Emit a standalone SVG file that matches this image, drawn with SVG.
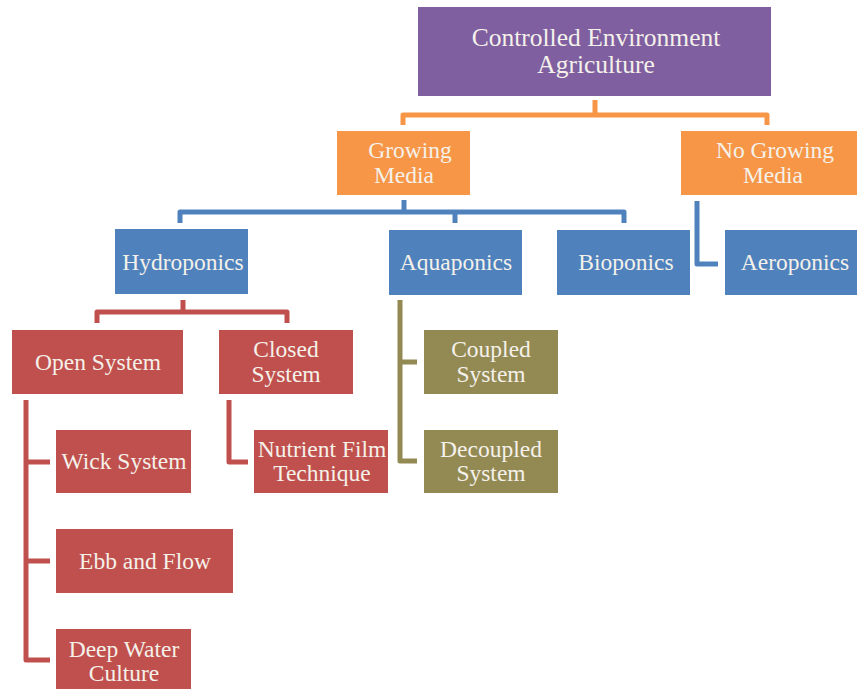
<svg xmlns="http://www.w3.org/2000/svg" width="857" height="689" viewBox="0 0 857 689">
<style>
text{font-family:'Liberation Serif','Times New Roman',Times,'DejaVu Serif',serif;font-size:23.5px;fill:#f4f1ea;text-anchor:middle}
.big{font-size:25.5px}
.c{fill:none;stroke-width:5;stroke-linejoin:round;stroke-linecap:butt}
.pu{fill:#7f5fa0}.or{fill:#f79646}.bl{fill:#4f81bd}.rd{fill:#c0504d}.ol{fill:#938953}
</style>
<rect width="857" height="689" fill="#fff"/>
<g id="connectors">
<path class="c" stroke="#f79646" d="M595 100V115M403 125V115H767V125"/>
<path class="c" stroke="#4f81bd" d="M404 200V212M180 223V212H624V223M455 212V223"/>
<path class="c" stroke="#4f81bd" d="M697 201V264H718"/>
<path class="c" stroke="#c0504d" d="M183 300V312M97 323V312H287V323"/>
<path class="c" stroke="#c0504d" d="M26 400V660H50M26 462H50M26 561H50"/>
<path class="c" stroke="#c0504d" d="M229 400V462H248"/>
<path class="c" stroke="#938953" d="M400 300V461H417M400 362H417"/>
</g>
<g id="cea"><rect class="pu" x="418" y="7" width="353" height="89"/><text class="big" x="596" y="46">Controlled Environment</text><text class="big" x="596" y="73">Agriculture</text></g>
<g id="growing-media"><rect class="or" x="337" y="131" width="133" height="64"/><text x="410" y="158">Growing</text><text x="404" y="183">Media</text></g>
<g id="no-growing-media"><rect class="or" x="681" y="131" width="176" height="64"/><text x="775" y="158">No Growing</text><text x="773" y="183">Media</text></g>
<g id="hydroponics"><rect class="bl" x="115" y="229" width="133" height="65"/><text x="183" y="270">Hydroponics</text></g>
<g id="aquaponics"><rect class="bl" x="389" y="230" width="133" height="65"/><text x="456" y="270">Aquaponics</text></g>
<g id="bioponics"><rect class="bl" x="557" y="230" width="133" height="65"/><text x="626" y="270">Bioponics</text></g>
<g id="aeroponics"><rect class="bl" x="725" y="230" width="132" height="65"/><text x="795" y="270">Aeroponics</text></g>
<g id="open-system"><rect class="rd" x="12" y="330" width="171" height="64"/><text x="98" y="370">Open System</text></g>
<g id="closed-system"><rect class="rd" x="219" y="330" width="134" height="64"/><text x="286" y="357">Closed</text><text x="286" y="382">System</text></g>
<g id="coupled-system"><rect class="ol" x="424" y="330" width="134" height="64"/><text x="491" y="357">Coupled</text><text x="491" y="382">System</text></g>
<g id="wick-system"><rect class="rd" x="56" y="430" width="135" height="63"/><text x="124" y="469">Wick System</text></g>
<g id="nft"><rect class="rd" x="254" y="430" width="134" height="63"/><text x="322" y="457">Nutrient Film</text><text x="322" y="481">Technique</text></g>
<g id="decoupled-system"><rect class="ol" x="424" y="430" width="134" height="63"/><text x="491" y="457">Decoupled</text><text x="491" y="481">System</text></g>
<g id="ebb-and-flow"><rect class="rd" x="56" y="529" width="177" height="64"/><text x="145" y="569">Ebb and Flow</text></g>
<g id="deep-water-culture"><rect class="rd" x="56" y="629" width="135" height="64"/><text x="124" y="657">Deep Water</text><text x="124" y="681">Culture</text></g>
</svg>
